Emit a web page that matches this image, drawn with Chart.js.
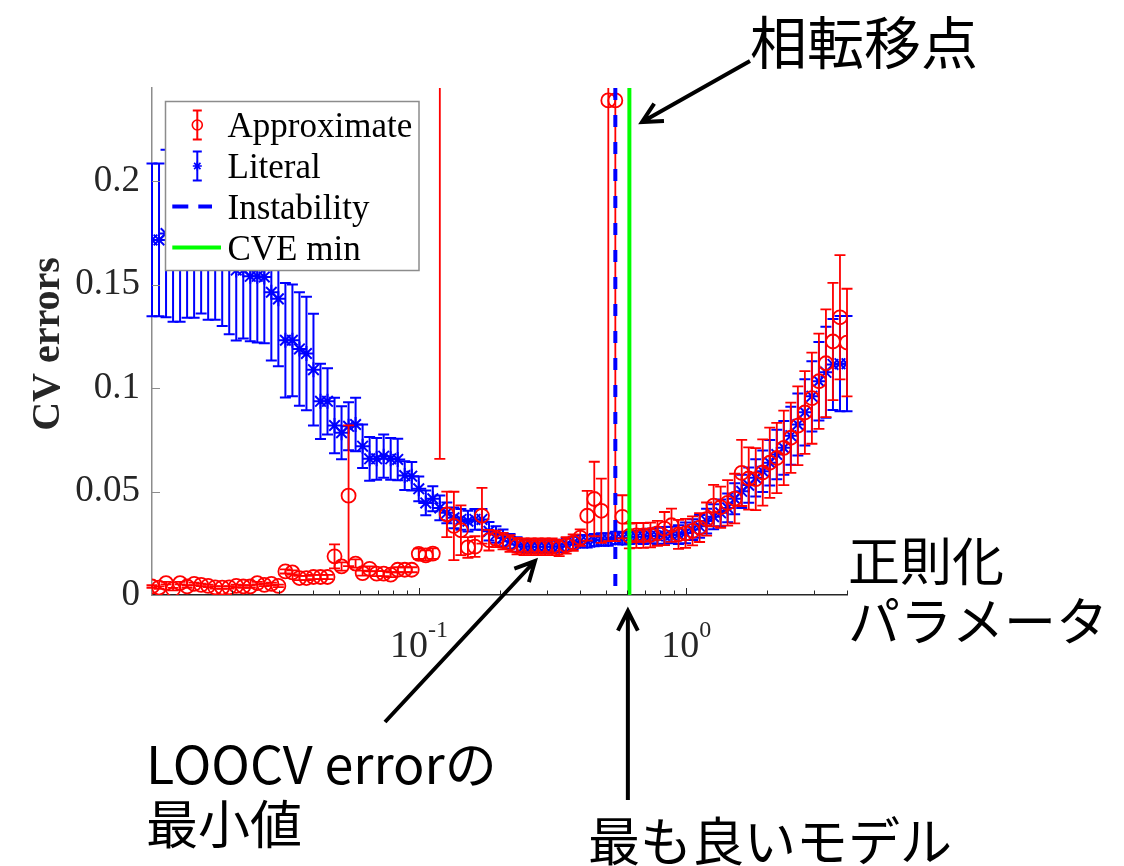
<!DOCTYPE html>
<html>
<head>
<meta charset="utf-8">
<script src="https://cdn.jsdelivr.net/npm/chart.js@4.4.1/dist/chart.umd.min.js"></script>
<style>
  html, body { margin: 0; padding: 0; background: #fff; }
  canvas { display: block; }
</style>
</head>
<body>
<canvas id="cv" width="1124" height="866"></canvas>
<script>
// regularisation parameter grid (100 log-spaced values, 0.01 .. 4)
const lambdas = [
  0.010000, 0.010624, 0.011287, 0.011991, 0.012739, 0.013534, 0.014378, 0.015275, 0.016228, 0.017240,
  0.018316, 0.019459, 0.020673, 0.021963, 0.023333, 0.024789, 0.026336, 0.027979, 0.029725, 0.031579,
  0.033549, 0.035642, 0.037866, 0.040228, 0.042738, 0.045405, 0.048237, 0.051247, 0.054444, 0.057841,
  0.061449, 0.065283, 0.069356, 0.073683, 0.078280, 0.083164, 0.088352, 0.093864, 0.099720, 0.10594,
  0.11255, 0.11957, 0.12703, 0.13496, 0.14338, 0.15232, 0.16183, 0.17192, 0.18265, 0.19404,
  0.20615, 0.21901, 0.23267, 0.24719, 0.26261, 0.27899, 0.29640, 0.31489, 0.33453, 0.35541,
  0.37758, 0.40114, 0.42616, 0.45275, 0.48099, 0.51100, 0.54288, 0.57675, 0.61273, 0.65095,
  0.69156, 0.73471, 0.78054, 0.82924, 0.88097, 0.93593, 0.99432, 1.0564, 1.1223, 1.1923,
  1.2667, 1.3457, 1.4296, 1.5188, 1.6136, 1.7143, 1.8212, 1.9348, 2.0555, 2.1838,
  2.3200, 2.4648, 2.6185, 2.7819, 2.9554, 3.1398, 3.3357, 3.5438, 3.7649, 4.0000
];

// Approximate CV error (red circles) and its error bar half-width
const approxMean = [
  0.0041, 0.0036, 0.0057, 0.0028, 0.0057, 0.0041, 0.0054, 0.0049, 0.0044, 0.0037,
  0.0036, 0.0037, 0.0044, 0.0041, 0.0041, 0.0057, 0.0049, 0.0054, 0.0044, 0.0114,
  0.0109, 0.0082, 0.0082, 0.0087, 0.0087, 0.0087, 0.0187, 0.0138, 0.0480, 0.0152,
  0.0106, 0.0126, 0.0103, 0.0103, 0.0098, 0.0122, 0.0122, 0.0122, 0.0199, 0.0191,
  0.0200, 0.5000, 0.0390, 0.0334, 0.0313, 0.0230, 0.0234, 0.0383, 0.0265, 0.0271,
  0.0260, 0.0249, 0.0236, 0.0233, 0.0233, 0.0233, 0.0233, 0.0233, 0.0228, 0.0240,
  0.0253, 0.0277, 0.0383, 0.0464, 0.0407, 0.2390, 0.2390, 0.0378, 0.0285, 0.0288,
  0.0288, 0.0290, 0.0298, 0.0321, 0.0337, 0.0293, 0.0298, 0.0310, 0.0326, 0.0367,
  0.0432, 0.0424, 0.0445, 0.0466, 0.0590, 0.0563, 0.0560, 0.0592, 0.0639, 0.0662,
  0.0711, 0.0760, 0.0818, 0.0882, 0.0951, 0.1033, 0.1120, 0.1225, 0.1342, 0.1220
];
const approxErr = [
  0.0006, 0.0006, 0.0006, 0.0006, 0.0006, 0.0006, 0.0006, 0.0006, 0.0006, 0.0006,
  0.0006, 0.0006, 0.0006, 0.0006, 0.0006, 0.0006, 0.0006, 0.0006, 0.0006, 0.0010,
  0.0010, 0.0010, 0.0010, 0.0010, 0.0010, 0.0010, 0.0058, 0.0020, 0.0340, 0.0020,
  0.0012, 0.0012, 0.0012, 0.0012, 0.0012, 0.0012, 0.0012, 0.0012, 0.0025, 0.0025,
  0.0025, 0.4342, 0.0110, 0.0165, 0.0120, 0.0050, 0.0050, 0.0135, 0.0050, 0.0040,
  0.0040, 0.0040, 0.0040, 0.0040, 0.0040, 0.0040, 0.0040, 0.0040, 0.0040, 0.0040,
  0.0040, 0.0040, 0.0120, 0.0180, 0.0155, 0.2130, 0.2130, 0.0104, 0.0060, 0.0060,
  0.0060, 0.0060, 0.0060, 0.0080, 0.0080, 0.0070, 0.0070, 0.0070, 0.0070, 0.0080,
  0.0100, 0.0100, 0.0110, 0.0120, 0.0160, 0.0150, 0.0150, 0.0160, 0.0170, 0.0170,
  0.0180, 0.0170, 0.0190, 0.0200, 0.0220, 0.0230, 0.0260, 0.0283, 0.0300, 0.0260
];

// Literal CV error (blue stars) and its error bar half-width
const literalMean = [
  0.1716, 0.1716, 0.1747, 0.1700, 0.1700, 0.1710, 0.1680, 0.1700, 0.1670, 0.1660,
  0.1640, 0.1600, 0.1570, 0.1570, 0.1540, 0.1540, 0.1537, 0.1463, 0.1431, 0.1231,
  0.1231, 0.1189, 0.1167, 0.1089, 0.0936, 0.0936, 0.0819, 0.0784, 0.0815, 0.0824,
  0.0719, 0.0658, 0.0658, 0.0671, 0.0658, 0.0655, 0.0577, 0.0574, 0.0513, 0.0445,
  0.0465, 0.0421, 0.0397, 0.0373, 0.0365, 0.0357, 0.0365, 0.0365, 0.0308, 0.0292,
  0.0276, 0.0260, 0.0244, 0.0236, 0.0233, 0.0233, 0.0233, 0.0233, 0.0236, 0.0244,
  0.0252, 0.0260, 0.0260, 0.0265, 0.0268, 0.0268, 0.0276, 0.0274, 0.0277, 0.0280,
  0.0282, 0.0285, 0.0285, 0.0288, 0.0290, 0.0292, 0.0300, 0.0316, 0.0332, 0.0357,
  0.0378, 0.0397, 0.0421, 0.0465, 0.0501, 0.0531, 0.0566, 0.0598, 0.0639, 0.0679,
  0.0711, 0.0770, 0.0824, 0.0883, 0.0960, 0.1033, 0.1076, 0.1114, 0.1118, 0.1118
];
const literalErr = [
  0.0369, 0.0369, 0.0405, 0.0380, 0.0380, 0.0370, 0.0340, 0.0340, 0.0340, 0.0330,
  0.0340, 0.0340, 0.0340, 0.0330, 0.0314, 0.0320, 0.0320, 0.0330, 0.0326, 0.0277,
  0.0270, 0.0274, 0.0274, 0.0270, 0.0182, 0.0160, 0.0134, 0.0128, 0.0116, 0.0129,
  0.0105, 0.0106, 0.0101, 0.0104, 0.0101, 0.0100, 0.0069, 0.0069, 0.0060, 0.0060,
  0.0060, 0.0060, 0.0050, 0.0050, 0.0050, 0.0050, 0.0050, 0.0050, 0.0045, 0.0040,
  0.0040, 0.0035, 0.0035, 0.0030, 0.0030, 0.0030, 0.0030, 0.0030, 0.0030, 0.0030,
  0.0030, 0.0030, 0.0030, 0.0030, 0.0030, 0.0030, 0.0030, 0.0030, 0.0030, 0.0030,
  0.0035, 0.0035, 0.0040, 0.0040, 0.0040, 0.0045, 0.0050, 0.0050, 0.0055, 0.0060,
  0.0060, 0.0065, 0.0070, 0.0075, 0.0080, 0.0085, 0.0090, 0.0100, 0.0110, 0.0120,
  0.0130, 0.0140, 0.0150, 0.0160, 0.0170, 0.0190, 0.0220, 0.0220, 0.0230, 0.0230
];

const instabilityLambda = 0.54288;
const cveMinLambda = 0.61273;

const yTicks = [0, 0.05, 0.1, 0.15, 0.2];
const yTickLabels = ['0', '0.05', '0.1', '0.15', '0.2'];
const xMajorTicks = [0.1, 1];
const xMajorLabels = [['10', '-1'], ['10', '0']];
const xMinorTicks = [0.02, 0.03, 0.04, 0.05, 0.06, 0.07, 0.08, 0.09,
                     0.2, 0.3, 0.4, 0.5, 0.6, 0.7, 0.8, 0.9, 2, 3, 4];

const RED = '#ff0000', BLUE = '#0000ff', GREEN = '#00ff00';
const SERIF = '"Liberation Serif", "Times New Roman", serif';
const JP = '"Noto Sans CJK JP", "Noto Sans", sans-serif';

function toPoints(ys) {
  return lambdas.map((x, i) => ({ x: x, y: ys[i] }));
}

// error bars: drawn just before each dataset's markers
const errorBarPlugin = {
  id: 'errorBars',
  beforeDatasetDraw(chart, args) {
    const ds = chart.data.datasets[args.index];
    if (!ds.errors) return;
    const { ctx, chartArea, scales: { x, y } } = chart;
    const cap = 5.5;
    ctx.save();
    ctx.beginPath();
    ctx.rect(0, chartArea.top, chart.width, chartArea.bottom - chartArea.top);
    ctx.clip();
    ctx.strokeStyle = ds.pointBorderColor;
    ctx.lineWidth = ds.errorLineWidth;
    ds.data.forEach((p, i) => {
      const e = ds.errors[i];
      const px = x.getPixelForValue(p.x);
      const lo = y.getPixelForValue(p.y - e);
      const hi = y.getPixelForValue(p.y + e);
      ctx.beginPath();
      ctx.moveTo(px, lo); ctx.lineTo(px, hi);
      ctx.moveTo(px - cap, lo); ctx.lineTo(px + cap, lo);
      ctx.moveTo(px - cap, hi); ctx.lineTo(px + cap, hi);
      ctx.stroke();
    });
    ctx.restore();
  }
};

// the two vertical reference lines
const refLinePlugin = {
  id: 'refLines',
  afterDatasetsDraw(chart) {
    const { ctx, chartArea, scales: { x } } = chart;
    ctx.save();
    ctx.lineWidth = 4;
    ctx.strokeStyle = BLUE;
    ctx.setLineDash([12, 15]);
    let px = x.getPixelForValue(instabilityLambda);
    ctx.beginPath();
    ctx.moveTo(px, chartArea.top); ctx.lineTo(px, chartArea.bottom);
    ctx.stroke();
    ctx.setLineDash([]);
    ctx.strokeStyle = GREEN;
    px = x.getPixelForValue(cveMinLambda);
    ctx.beginPath();
    ctx.moveTo(px, chartArea.top); ctx.lineTo(px, chartArea.bottom);
    ctx.stroke();
    ctx.restore();
  }
};

function drawCircle(ctx, x, y, r) {
  ctx.beginPath();
  ctx.arc(x, y, r, 0, Math.PI * 2);
  ctx.stroke();
}

function drawStar(ctx, x, y, r) {
  const d = r * Math.SQRT1_2;
  ctx.beginPath();
  ctx.moveTo(x - r, y); ctx.lineTo(x + r, y);
  ctx.moveTo(x, y - r); ctx.lineTo(x, y + r);
  ctx.moveTo(x - d, y - d); ctx.lineTo(x + d, y + d);
  ctx.moveTo(x - d, y + d); ctx.lineTo(x + d, y - d);
  ctx.stroke();
}

function drawArrow(ctx, x0, y0, x1, y1) {
  const a = Math.atan2(y1 - y0, x1 - x0);
  const h = 22, s = 0.47;
  ctx.beginPath();
  ctx.moveTo(x0, y0); ctx.lineTo(x1, y1);
  ctx.moveTo(x1 - h * Math.cos(a - s), y1 - h * Math.sin(a - s));
  ctx.lineTo(x1, y1);
  ctx.lineTo(x1 - h * Math.cos(a + s), y1 - h * Math.sin(a + s));
  ctx.stroke();
}

// axis ticks, x labels, y title, legend and the Japanese notes
const decorPlugin = {
  id: 'decor',
  afterDraw(chart) {
    const { ctx, chartArea, scales: { x, y } } = chart;
    const names = chart.data.datasets.map(d => d.label).concat(['Instability', 'CVE min']);
    ctx.save();

    // inner ticks
    ctx.lineWidth = 1;
    ctx.strokeStyle = '#8c8c8c';
    yTicks.forEach(v => {
      const py = Math.round(y.getPixelForValue(v)) + 0.5;
      ctx.beginPath();
      ctx.moveTo(chartArea.left, py); ctx.lineTo(chartArea.left + 8, py);
      ctx.stroke();
    });
    ctx.strokeStyle = '#262626';
    xMajorTicks.forEach(v => {
      const px = Math.round(x.getPixelForValue(v)) + 0.5;
      ctx.beginPath();
      ctx.moveTo(px, chartArea.bottom); ctx.lineTo(px, chartArea.bottom - 7);
      ctx.stroke();
    });
    xMinorTicks.forEach(v => {
      const px = Math.round(x.getPixelForValue(v)) + 0.5;
      ctx.beginPath();
      ctx.moveTo(px, chartArea.bottom); ctx.lineTo(px, chartArea.bottom - 4.5);
      ctx.stroke();
    });

    // x tick labels with superscript exponents
    ctx.fillStyle = '#262626';
    ctx.textBaseline = 'alphabetic';
    ctx.textAlign = 'left';
    xMajorTicks.forEach((v, i) => {
      const [base, exp] = xMajorLabels[i];
      ctx.font = '38px ' + SERIF;
      const wb = ctx.measureText(base).width;
      ctx.font = '24px ' + SERIF;
      const we = ctx.measureText(exp).width;
      const left = x.getPixelForValue(v) - (wb + we) / 2;
      ctx.font = '38px ' + SERIF;
      ctx.fillText(base, left, 657);
      ctx.font = '24px ' + SERIF;
      ctx.fillText(exp, left + wb, 637);
    });

    // y axis title
    ctx.save();
    ctx.translate(59, 344);
    ctx.rotate(-Math.PI / 2);
    ctx.font = 'bold 40px ' + SERIF;
    ctx.textAlign = 'center';
    ctx.fillStyle = '#262626';
    ctx.fillText('CV errors', 0, 0);
    ctx.restore();

    // legend
    const lx = 165.5, ly = 101.5, lw = 253.5, lh = 169;
    ctx.fillStyle = '#ffffff';
    ctx.fillRect(lx, ly, lw, lh);
    ctx.strokeStyle = '#8c8c8c';
    ctx.lineWidth = 1.5;
    ctx.strokeRect(lx, ly, lw, lh);
    const rows = [125, 166, 206.5, 247.5];
    const ix = 197.3;
    // errorbar icons
    [[RED, 'circle'], [BLUE, 'star']].forEach(([col, mk], k) => {
      const cy = rows[k];
      ctx.strokeStyle = col;
      ctx.lineWidth = 2;
      ctx.beginPath();
      ctx.moveTo(ix, cy - 14.5); ctx.lineTo(ix, cy + 14.5);
      ctx.moveTo(ix - 4.5, cy - 14.5); ctx.lineTo(ix + 4.5, cy - 14.5);
      ctx.moveTo(ix - 4.5, cy + 14.5); ctx.lineTo(ix + 4.5, cy + 14.5);
      ctx.stroke();
      ctx.lineWidth = 1.6;
      if (mk === 'circle') drawCircle(ctx, ix, cy, 5);
      else drawStar(ctx, ix, cy, 4.5);
    });
    ctx.lineWidth = 4;
    ctx.strokeStyle = BLUE;
    ctx.beginPath();
    ctx.moveTo(172.3, rows[2]); ctx.lineTo(188.3, rows[2]);
    ctx.moveTo(198.3, rows[2]); ctx.lineTo(212, rows[2]);
    ctx.stroke();
    ctx.strokeStyle = GREEN;
    ctx.beginPath();
    ctx.moveTo(172.3, rows[3]); ctx.lineTo(221, rows[3]);
    ctx.stroke();
    ctx.fillStyle = '#000000';
    ctx.font = '35px ' + SERIF;
    ctx.textBaseline = 'alphabetic';
    names.forEach((n, k) => ctx.fillText(n, 227.5, rows[k] + 12));

    // Japanese notes and arrows
    ctx.fillStyle = '#000000';
    ctx.textBaseline = 'middle';
    ctx.textAlign = 'left';
    ctx.font = '57px ' + JP;
    ctx.fillText('相転移点', 750, 42);
    ctx.font = '52px ' + JP;
    ctx.fillText('正則化', 848, 561);
    ctx.fillText('パラメータ', 848, 621);
    ctx.fillText('LOOCV errorの', 146, 764);
    ctx.fillText('最小値', 146, 824);
    ctx.fillText('最も良いモデル', 588, 841);

    ctx.strokeStyle = '#000000';
    ctx.lineWidth = 4;
    ctx.lineJoin = 'miter';
    drawArrow(ctx, 750, 61, 642, 122);
    drawArrow(ctx, 385, 722, 535, 561);
    const bx = x.getPixelForValue(cveMinLambda) - 1.5;
    drawArrow(ctx, bx, 800, bx, chartArea.bottom + 16);

    ctx.restore();
  }
};

new Chart(document.getElementById('cv'), {
  type: 'scatter',
  data: {
    datasets: [
      {
        label: 'Approximate',
        data: toPoints(approxMean),
        errors: approxErr,
        errorLineWidth: 1.8,
        pointStyle: 'circle',
        pointRadius: 7,
        pointBorderWidth: 1.8,
        pointBorderColor: RED,
        pointBackgroundColor: 'rgba(0,0,0,0)',
        showLine: false
      },
      {
        label: 'Literal',
        data: toPoints(literalMean),
        errors: literalErr,
        errorLineWidth: 2,
        pointStyle: 'star',
        pointRadius: 7.5,
        pointBorderWidth: 2,
        pointBorderColor: BLUE,
        pointBackgroundColor: BLUE,
        showLine: false
      }
    ]
  },
  options: {
    responsive: false,
    animation: false,
    devicePixelRatio: 1,
    events: [],
    layout: { padding: { left: 0, top: 88, right: 277, bottom: 261 } },
    plugins: { legend: { display: false }, tooltip: { enabled: false } },
    scales: {
      x: {
        type: 'logarithmic',
        min: 0.01,
        max: 4,
        grid: { display: false, drawTicks: false },
        border: { display: true, color: '#262626', width: 1.5 },
        ticks: { display: false },
        afterFit(s) { s.height = 10; }
      },
      y: {
        type: 'linear',
        min: 0,
        max: 0.245,
        grid: { display: false, drawTicks: false },
        border: { display: true, color: '#8c8c8c', width: 1.5 },
        afterBuildTicks(s) { s.ticks = yTicks.map(v => ({ value: v })); },
        ticks: {
          padding: 12,
          color: '#262626',
          font: { family: SERIF, size: 37 },
          callback: (v, i) => yTickLabels[i]
        },
        afterFit(s) { s.width = 152; }
      }
    }
  },
  plugins: [errorBarPlugin, refLinePlugin, decorPlugin]
});
</script>
</body>
</html>
